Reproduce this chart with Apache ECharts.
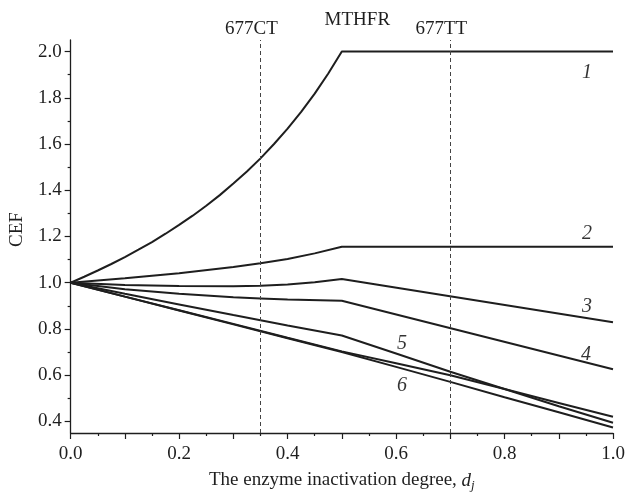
<!DOCTYPE html>
<html>
<head>
<meta charset="utf-8">
<script src="https://cdn.jsdelivr.net/npm/echarts@6/dist/echarts.min.js"></script>
<style>html,body{margin:0;padding:0;background:#fff;}#chart{width:628px;height:498px;}</style>
</head>
<body>
<div id="chart"></div>
<script>
// ---- data ----
const d1   = [0, 0.025, 0.05, 0.075, 0.1, 0.125, 0.15, 0.175, 0.2, 0.225, 0.25, 0.275, 0.3, 0.325, 0.35, 0.375, 0.4, 0.425, 0.45, 0.475, 0.5, 1.0];
const cef1 = [1.0, 1.026, 1.053, 1.081, 1.111, 1.143, 1.176, 1.212, 1.25, 1.29, 1.333, 1.379, 1.429, 1.481, 1.538, 1.6, 1.667, 1.739, 1.818, 1.905, 2.0, 2.0];

const d2   = [0, 0.1, 0.2, 0.3, 0.35, 0.4, 0.45, 0.5, 1.0];
const cef2 = [1.0, 1.019, 1.041, 1.068, 1.084, 1.103, 1.127, 1.156, 1.156];

const d3   = [0, 0.1, 0.2, 0.3, 0.35, 0.4, 0.45, 0.5, 1.0];
const cef3 = [1.0, 0.99, 0.986, 0.985, 0.987, 0.992, 1.002, 1.016, 0.829];

const d4   = [0, 0.1, 0.2, 0.3, 0.35, 0.4, 0.5, 1.0];
const cef4 = [1.0, 0.972, 0.952, 0.937, 0.932, 0.927, 0.922, 0.626];

const d5   = [0, 0.1, 0.2, 0.3, 0.4, 0.5, 0.6, 0.7, 0.8, 0.9, 1.0];
const cef5 = [1.0, 0.952, 0.906, 0.86, 0.815, 0.772, 0.694, 0.615, 0.54, 0.466, 0.394];

const d6   = [0, 0.1, 0.2, 0.3, 0.4, 0.5, 0.6, 0.7, 0.8, 0.9, 1.0];
const cef6a = [1.0, 0.94, 0.881, 0.822, 0.762, 0.703, 0.652, 0.60, 0.54, 0.48, 0.42];
const cef6b = [1.0, 0.94, 0.88, 0.82, 0.76, 0.70, 0.636, 0.571, 0.505, 0.44, 0.374];

const xTickLabels = ['0.0', '0.2', '0.4', '0.6', '0.8', '1.0'];
const yTickLabels = [0.4, 0.6, 0.8, 1.0, 1.2, 1.4, 1.6, 1.8, 2.0];
const yMinorTicks = [0.5, 0.7, 0.9, 1.1, 1.3, 1.5, 1.7, 1.9];

const genotypeLines = [0.35, 0.7];
const genotypeNames = ['677CT', '677TT'];
const enzymeName = 'MTHFR';
const enzymeAt = 0.5;

const curveLabels = ['1', '2', '3', '4', '5', '6'];
const curveLabelX = [0.952, 0.952, 0.952, 0.95, 0.611, 0.611];
const curveLabelY = [1.909, 1.214, 0.898, 0.687, 0.735, 0.553];

// ---- chart ----
const FONT = 'Liberation Serif';
const INK = '#1e1e1e';
const zip = (xs, ys) => xs.map((x, i) => [x, ys[i]]);

function curve(xs, ys) {
  return {
    type: 'line', data: zip(xs, ys), showSymbol: false, symbol: 'none',
    lineStyle: { color: INK, width: 2 }, silent: true, z: 3
  };
}

const s1 = curve(d1, cef1);
s1.markLine = {
  silent: true, symbol: 'none', animation: false,
  lineStyle: { color: '#444', width: 1, type: [4, 3] },
  label: { show: true, position: 'end', color: INK, fontFamily: FONT, fontSize: 19 },
  data: genotypeLines.map((x, i) => ({
    xAxis: x,
    label: { formatter: genotypeNames[i], distance: 1, padding: [0, 18, 0, 0] }
  })).concat([{
    xAxis: enzymeAt,
    lineStyle: { color: 'rgba(0,0,0,0)', width: 0 },
    label: { formatter: enzymeName, distance: 10, padding: [0, 0, 0, 31] }
  }])
};

const labelSeries = {
  type: 'scatter', symbolSize: 0, itemStyle: { color: INK }, silent: true, z: 5,
  data: curveLabels.map((t, i) => [curveLabelX[i], curveLabelY[i], t]),
  label: {
    show: true, position: 'inside', formatter: p => p.data[2],
    color: '#000', fontFamily: FONT, fontStyle: 'italic', fontSize: 20
  }
};

const option = {
  animation: false,
  backgroundColor: '#fff',
  grid: { left: 70, right: 15, top: 40, bottom: 65 },
  xAxis: {
    type: 'value', min: 0, max: 1, interval: 0.1,
    name: '{n|The enzyme inactivation degree, }{d|d}{j|j}',
    nameLocation: 'middle', nameGap: 36,
    nameTextStyle: {
      rich: {
        n: { fontFamily: FONT, fontSize: 19, color: INK },
        d: { fontFamily: FONT, fontSize: 19, fontStyle: 'italic', color: INK },
        j: { fontFamily: FONT, fontSize: 13, fontStyle: 'italic', color: INK, verticalAlign: 'bottom', padding: [10, 0, 0, 0] }
      }
    },
    axisLine: { show: true, lineStyle: { color: INK, width: 1.3 } },
    axisTick: { show: true, length: 6, lineStyle: { color: INK, width: 1.2 } },
    minorTick: { show: true, splitNumber: 2, length: 3, lineStyle: { color: INK, width: 1.2 } },
    axisLabel: {
      margin: 12, fontFamily: FONT, fontSize: 19, color: INK,
      formatter: v => { const s = v.toFixed(1); return xTickLabels.indexOf(s) >= 0 ? s : ''; }
    },
    splitLine: { show: false }
  },
  yAxis: [{
    type: 'value', min: 0.35, max: 2.05,
    name: 'CEF', nameLocation: 'middle', nameGap: 33,
    nameTextStyle: { fontFamily: FONT, fontSize: 19, color: INK, padding: [0, 0, 0, 14] },
    axisLine: { show: true, lineStyle: { color: INK, width: 1.3 } },
    axisTick: { show: true, length: 6, customValues: yTickLabels, lineStyle: { color: INK, width: 1.2 } },
    axisLabel: { customValues: yTickLabels, margin: 9, formatter: v => v.toFixed(1), fontFamily: FONT, fontSize: 19, color: INK },
    splitLine: { show: false }
  }, {
    type: 'value', min: 0.35, max: 2.05, position: 'left',
    axisLine: { show: false },
    axisTick: { show: true, length: 3, customValues: yMinorTicks, lineStyle: { color: INK, width: 1.2 } },
    axisLabel: { show: false },
    splitLine: { show: false }
  }],
  series: [
    s1,
    curve(d2, cef2),
    curve(d3, cef3),
    curve(d4, cef4),
    curve(d5, cef5),
    curve(d6, cef6a),
    curve(d6, cef6b),
    labelSeries
  ]
};

const chart = echarts.init(document.getElementById('chart'), null, { renderer: 'canvas' });
chart.setOption(option);
</script>
</body>
</html>
